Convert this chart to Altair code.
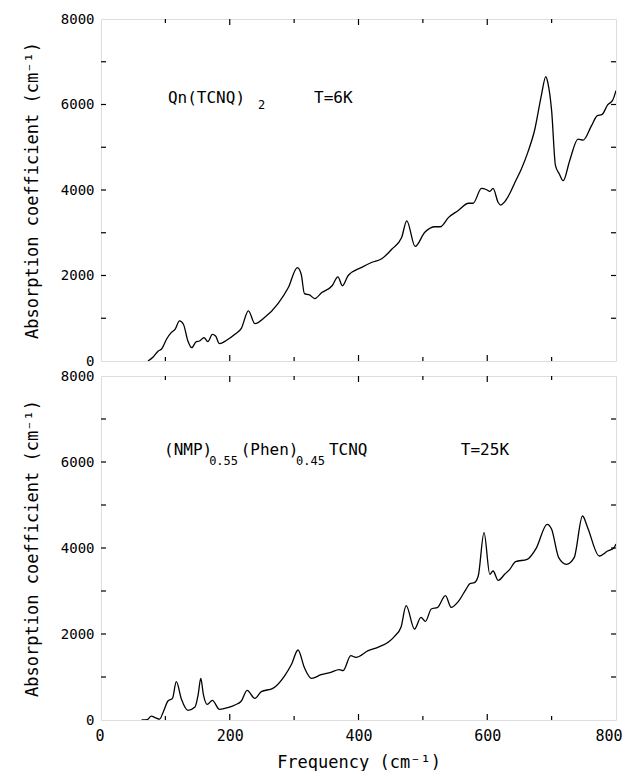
import altair as alt
import pandas as pd

# ---- data ----
top_freq = [73, 81, 89, 94, 102, 109, 115, 122, 128, 135, 141, 148, 153, 160, 166, 173, 178, 184,
            195, 208, 218, 229, 239, 254, 275, 291, 305, 311, 316, 324, 332, 343, 359, 368, 375,
            384, 405, 421, 436, 452, 467, 475, 488, 503, 519, 527, 540, 555, 571, 578, 591, 599,
            604, 609, 617, 621, 627, 635, 643, 653, 663, 674, 684, 691, 694, 700, 706, 712, 718,
            728, 741, 749, 762, 771, 778, 787, 795, 800]
top_abs = [0, 94, 234, 280, 515, 663, 740, 937, 859, 468, 312, 453, 468, 546, 453, 624, 585, 405,
           484, 624, 765, 1171, 875, 1015, 1343, 1718, 2186, 2030, 1577, 1546, 1460, 1600, 1760,
           1970, 1760, 2000, 2190, 2310, 2390, 2620, 2890, 3280, 2680, 3010, 3140, 3140, 3360,
           3520, 3690, 3690, 4036, 4006, 3966, 4036, 3708, 3646, 3724, 3919, 4177, 4490, 4880,
           5427, 6207, 6653, 6520, 5856, 4568, 4373, 4217, 4685, 5192, 5169, 5505, 5739, 5762,
           5989, 6106, 6325]

bot_freq = [63, 72, 78, 85, 91, 97, 104, 111, 117, 125, 135, 146, 151, 155, 159, 165, 173, 184,
            197, 208, 218, 227, 239, 249, 267, 285, 296, 306, 316, 327, 342, 357, 370, 376, 388,
            396, 415, 430, 446, 456, 466, 474, 487, 497, 504, 513, 523, 535, 544, 554, 567, 573,
            580, 586, 595, 604, 609, 617, 627, 635, 644, 662, 676, 693, 700, 711, 723, 735, 748,
            756, 774, 787, 797, 800]
bot_abs = [0, 10, 90, 50, 20, 200, 442, 504, 891, 481, 225, 302, 597, 969, 597, 364, 457, 248,
           287, 349, 442, 690, 504, 659, 736, 1023, 1295, 1628, 1217, 969, 1054, 1109, 1170, 1147,
           1496, 1457, 1612, 1690, 1806, 1946, 2155, 2659, 2116, 2388, 2295, 2581, 2620, 2891,
           2620, 2736, 3039, 3170, 3194, 3349, 4357, 3388, 3465, 3248, 3388, 3504, 3682, 3736,
           3992, 4550, 4434, 3775, 3620, 3775, 4744, 4473, 3814, 3930, 4007, 4093]

x_tick_values = [100, 200, 300, 400, 500, 600, 700]
y_tick_values = [1000, 2000, 3000, 4000, 5000, 6000, 7000]
x_label_values = [0, 200, 400, 600, 800]
y_label_values = [0, 2000, 4000, 6000, 8000]

FONT = "DejaVu Sans Mono"
W = 515
Y_TITLE = "Absorption coefficient (cm\u207b\u00b9)"
X_TITLE = "Frequency (cm\u207b\u00b9)"

xs = alt.Scale(domain=[0, 800], nice=False, zero=False)
ys = alt.Scale(domain=[0, 8000], nice=False)


def panel(freq, vals, H, bottom, notes):
    df = pd.DataFrame({"f": freq, "a": vals})
    yaxis = alt.Axis(values=y_label_values, format="d", ticks=False, domain=False, grid=False,
                     labelFont=FONT, labelFontSize=14, labelPadding=7, labelColor="black",
                     title=Y_TITLE, titleFont=FONT, titleFontSize=17, titleFontWeight="normal",
                     titleColor="black", titlePadding=19)
    if bottom:
        xaxis = alt.Axis(values=x_label_values, format="d", ticks=False, domain=False,
                         grid=False, labelFont=FONT, labelFontSize=15, labelPadding=8,
                         labelColor="black", labelFlush=True, labelFlushOffset=6,
                         title=X_TITLE, titleFont=FONT, titleFontSize=17,
                         titleFontWeight="normal", titleColor="black", titlePadding=11)
        xenc = alt.X("f:Q", scale=xs, axis=xaxis)
    else:
        xenc = alt.X("f:Q", scale=xs, axis=None)

    line = alt.Chart(df).mark_line(color="black", strokeWidth=1.3,
                                   interpolate="monotone", clip=True).encode(
        x=xenc, y=alt.Y("a:Q", scale=ys, axis=yaxis))

    xt = pd.DataFrame({"t": x_tick_values})
    xt["major"] = xt["t"] % 200 == 0
    yt = pd.DataFrame({"t": y_tick_values})

    layers = [line]
    for major, ln in ((True, 6), (False, 4)):
        sub = xt[xt["major"] == major]
        layers.append(alt.Chart(sub).mark_rule(color="black", strokeWidth=1.2).encode(
            x=alt.X("t:Q", scale=xs), y=alt.value(0), y2=alt.value(ln)))
        layers.append(alt.Chart(sub).mark_rule(color="black", strokeWidth=1.2).encode(
            x=alt.X("t:Q", scale=xs), y=alt.value(H), y2=alt.value(H - ln)))
    layers.append(alt.Chart(yt).mark_rule(color="black", strokeWidth=1.2).encode(
        y=alt.Y("t:Q", scale=ys), x=alt.value(0), x2=alt.value(5)))
    layers.append(alt.Chart(yt).mark_rule(color="black", strokeWidth=1.2).encode(
        y=alt.Y("t:Q", scale=ys), x=alt.value(W), x2=alt.value(W - 5)))

    for txt, fx, fy, size in notes:
        layers.append(alt.Chart().mark_text(align="left", baseline="middle", font=FONT,
                                            fontSize=size, color="black").encode(
            x=alt.X(datum=fx, scale=xs), y=alt.Y(datum=fy, scale=ys),
            text=alt.value(txt)))

    return alt.layer(*layers).properties(width=W, height=H)


top_notes = [("Qn(TCNQ)", 104, 6160, 16), ("2", 244, 5990, 12), ("T=6K", 331, 6160, 16)]
bot_notes = [("(NMP)", 98, 6290, 16), ("0.55", 168, 6020, 12), ("(Phen)", 217, 6290, 16),
             ("0.45", 303, 6020, 12), ("TCNQ", 354, 6290, 16), ("T=25K", 559, 6290, 16)]

top = panel(top_freq, top_abs, 342, False, top_notes)
bot = panel(bot_freq, bot_abs, 344, True, bot_notes)

chart = alt.vconcat(top, bot, spacing=15, bounds="flush").properties(
    padding={"left": 14, "top": 3, "right": 0, "bottom": 0}
).configure_view(stroke="black", strokeWidth=1.5).configure(background="white")

chart.save("out.html", embed_options={"renderer": "svg", "actions": False})
